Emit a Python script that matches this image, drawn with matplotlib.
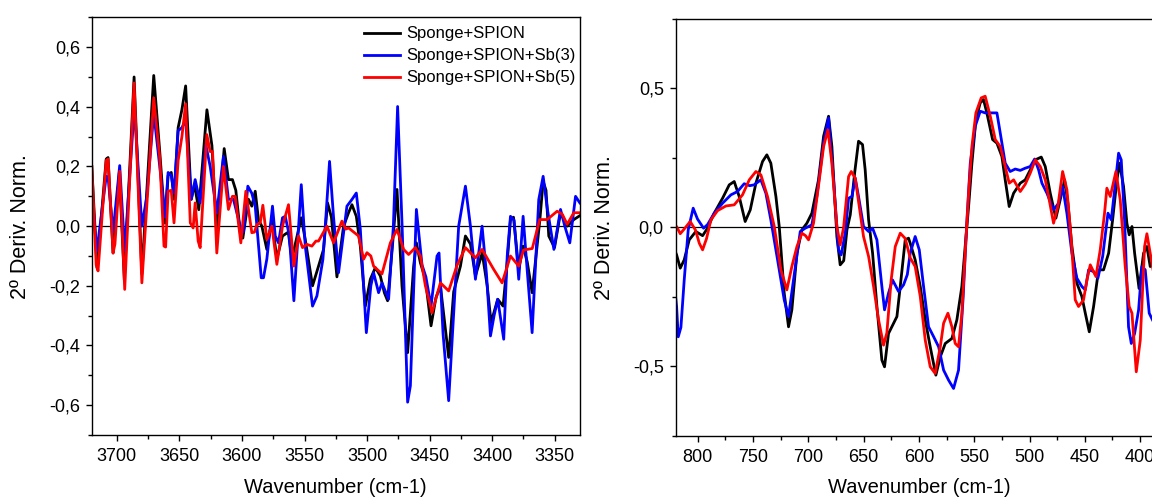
import numpy as np
import matplotlib
matplotlib.use("Agg")
import matplotlib.pyplot as plt
from matplotlib.ticker import MultipleLocator, FuncFormatter

plt.rcParams['font.family'] = ['Liberation Sans', 'DejaVu Sans']

labels = ["Sponge+SPION", "Sponge+SPION+Sb(3)", "Sponge+SPION+Sb(5)"]
colors = ["#000000", "#0000ff", "#ff0000"]

# OH stretching region (3720-3330 cm-1)
oh_wn_k = [3720, 3715.8, 3708.5, 3707, 3703, 3698, 3694, 3686.2, 3680, 3670.5, 3665.7, 3661.5, 3659, 3656.5,
           3654.3, 3651, 3648, 3645, 3640.5, 3638, 3634.5, 3628, 3624, 3620, 3614.2, 3610.8, 3607.6, 3604.9,
           3601.4, 3599.3, 3594.8, 3592.1, 3589.4, 3586.8, 3584.1, 3580.1, 3576.1, 3572.1, 3567.6, 3563,
           3560.1, 3552.6, 3549.4, 3543.6, 3538.8, 3534.8, 3531.6, 3528.5, 3524.1, 3518.8, 3514.8, 3512.1,
           3508.6, 3505.4, 3501.4, 3497.4, 3493.4, 3489.4, 3486.2, 3483.6, 3480, 3476.1, 3472.1, 3467.6,
           3462.8, 3460.6, 3457.4, 3453.4, 3448.9, 3445, 3441.4, 3434.8, 3430.8, 3425.4, 3421.4, 3417.4,
           3413.4, 3408, 3404, 3400.9, 3395.6, 3391.3, 3388, 3385.4, 3383, 3378.8, 3375.3, 3372, 3368.1,
           3361.9, 3359.3, 3357, 3354.8, 3350.2, 3345.4, 3340, 3334.8, 3330]
oh_k = [0.20, -0.14, 0.225, 0.23, -0.09, 0.18, -0.18, 0.50, -0.16, 0.505, 0.25, 0.01, 0.17, 0.18,
        0.09, 0.33, 0.39, 0.47, 0.09, 0.14, 0.055, 0.39, 0.27, -0.03, 0.26, 0.156, 0.156, 0.12,
        -0.02, -0.04, 0.09, 0.067, 0.117, 0.022, 0.0, -0.078, 0.022, -0.11, -0.033, -0.02,
        -0.11, 0.028, -0.045, -0.2, -0.134, -0.078, 0.078, 0.03, -0.17, 0.0, 0.045, 0.072,
        0.033, -0.067, -0.268, -0.178, -0.139, -0.167, -0.223, -0.25, -0.08, 0.123, -0.2, -0.424,
        -0.134, -0.056, -0.123, -0.178, -0.334, -0.24, -0.2, -0.44, -0.22, -0.134, -0.033, -0.06,
        -0.167, -0.09, -0.2, -0.323, -0.245, -0.268, -0.12, 0.022, 0.03, -0.145, -0.067, -0.12, -0.223,
        0.022, 0.15, 0.12, -0.033, -0.072, 0.045, 0.0, 0.022, 0.035]

oh_wn_b = [3720, 3716, 3708.5, 3707, 3703, 3697.7, 3693.7, 3686, 3680, 3676, 3670.5, 3665.7, 3661.5, 3659,
           3656.5, 3654.3, 3651, 3648, 3645, 3640.5, 3637.4, 3633.4, 3628.9, 3625.4, 3620.1, 3614.8, 3610.8,
           3606.8, 3601.4, 3598.8, 3595.3, 3592.1, 3589.4, 3584.6, 3582.8, 3580.1, 3575.6, 3573.4, 3570.8,
           3567.6, 3565.4, 3562.2, 3558.5, 3552.6, 3549.4, 3543.6, 3540.1, 3535.3, 3533.4, 3530, 3526.8,
           3522.8, 3516.1, 3512, 3508.6, 3505.4, 3500.6, 3497, 3494.8, 3490.8, 3488.1, 3482.8, 3479,
           3475.6, 3472, 3467.6, 3465.4, 3460.6, 3456.1, 3453, 3448.9, 3444.1, 3442.5, 3439.3, 3434.8,
           3426.8, 3421.4, 3417.4, 3413.4, 3408.1, 3404.6, 3401.4, 3398.5, 3395.6, 3390.8, 3388, 3385.4,
           3382.5, 3378.8, 3375.3, 3372, 3368.1, 3362.8, 3359.3, 3356, 3350.7, 3345.4, 3342, 3338,
           3333.4, 3330]
oh_b = [0.12, -0.085, 0.167, 0.165, -0.02, 0.203, -0.084, 0.40, 0.0, 0.1, 0.38, 0.2, 0.03, 0.18,
        0.17, 0.11, 0.32, 0.33, 0.355, 0.09, 0.156, 0.078, 0.273, 0.2, 0.045, 0.234, 0.09,
        0.09, 0.0, -0.02, 0.134, 0.11, 0.067, -0.173, -0.173, -0.11, 0.067, -0.033, -0.056,
        0.028, 0.033, -0.03, -0.25, 0.139, -0.067, -0.268, -0.234, -0.111, 0.0, 0.217, 0.03,
        -0.156, 0.067, 0.09, 0.111, -0.01, -0.357, -0.2, -0.156, -0.223, -0.19, -0.245, 0.0,
        0.401, 0.0, -0.59, -0.535, 0.056, -0.13, -0.17, -0.268, -0.1, -0.09, -0.36, -0.585,
        0.0, 0.134, 0.0, -0.178, 0.0, -0.16, -0.368, -0.3, -0.245, -0.379, -0.1, 0.033,
        0.02, -0.178, 0.033, -0.15, -0.357, 0.089, 0.167, 0.06, -0.078, 0.056, 0.0, -0.056,
        0.1, 0.078]

oh_wn_r = [3720, 3716.5, 3715, 3708.5, 3707, 3703, 3701.5, 3697.7, 3693.7, 3686.2, 3680, 3670.5, 3665.7,
           3662.3, 3661, 3659, 3656.5, 3654.3, 3651, 3648, 3645, 3641.3, 3639, 3637.4, 3635, 3633.4,
           3628.1, 3625.4, 3623.5, 3620.1, 3614.8, 3610.8, 3607.6, 3605.4, 3600.9, 3596.9, 3592.1, 3590,
           3588.1, 3585.4, 3583.3, 3580.1, 3576.1, 3572.1, 3567.6, 3562.8, 3558.5, 3554.8, 3551.6, 3548.1,
           3544.1, 3540.9, 3538.8, 3532.1, 3526.8, 3520.1, 3517, 3514.8, 3506.8, 3502.8, 3500.1, 3497,
           3494.8, 3488.1, 3481.4, 3476.1, 3470.8, 3466.8, 3461.4, 3457.4, 3453.4, 3448.1, 3441.4, 3434.8,
           3428, 3421.4, 3413.4, 3408.1, 3398.8, 3392.1, 3385.4, 3378.8, 3375, 3368, 3362, 3356.1, 3348.1,
           3344, 3340.1, 3334.8, 3330]
oh_r = [0.20, -0.13, -0.15, 0.22, 0.225, -0.09, -0.06, 0.184, -0.212, 0.48, -0.19, 0.43, 0.23,
        -0.067, -0.07, 0.117, 0.12, 0.011, 0.22, 0.30, 0.41, 0.011, -0.006, 0.078, -0.05, -0.072,
        0.307, 0.25, 0.25, -0.09, 0.2, 0.056, 0.1, 0.1, -0.056, 0.117, -0.022, -0.02,
        0.005, 0.011, 0.07, -0.045, 0.0, -0.128, 0.0, 0.072, -0.134, -0.033, -0.072, -0.061,
        -0.067, -0.05, -0.05, 0.0, -0.056, 0.017, -0.01, -0.006, -0.033, -0.111, -0.089, -0.1,
        -0.134, -0.16, -0.056, -0.011, -0.078, -0.095, -0.072, -0.1, -0.2, -0.29, -0.19, -0.217,
        -0.13, -0.072, -0.106, -0.078, -0.145, -0.19, -0.1, -0.134, -0.08, -0.075, 0.022, 0.022, 0.05,
        0.04, 0.006, 0.045, 0.045]

# fingerprint region (820-390 cm-1)
fp_wn_k = [820, 819.1, 815.8, 812.2, 807.7, 801.7, 795.6, 791.1, 785.1, 777.5, 771.5, 767, 762.5, 757.1,
           752.5, 747.4, 741.4, 737.5, 733.9, 729.3, 726.3, 721.8, 717.9, 714.9, 710.3, 705.8, 701.3,
           696.8, 690.8, 686.2, 681.7, 678.7, 674.2, 671.2, 668, 665.1, 662.1, 658, 654.6, 651, 648.6,
           645.5, 641.9, 638, 633.5, 631.1, 627.5, 623.5, 619.9, 616.9, 612.4, 609.4, 607.9, 603.4,
           598.8, 594.3, 589.8, 584.7, 580.7, 576.2, 570.2, 565.7, 561.2, 558.2, 555.1, 552.1, 548.5,
           544.6, 541.6, 538.6, 533.4, 529.5, 525, 522, 518.4, 514.4, 508.4, 503.9, 494.8, 489.4,
           485.8, 481.3, 476.2, 472.3, 468.3, 465.3, 461.7, 457.2, 452.7, 449.6, 446, 442.1, 437.6,
           433.1, 428.5, 424.9, 421, 418.6, 415, 412, 409.9, 407.4, 405, 401, 396.9, 393.9, 390.9, 388]
fp_k = [-0.09, -0.099, -0.147, -0.117, -0.045, -0.015, -0.03, -0.003, 0.051, 0.105, 0.153, 0.165, 0.111, 0.021,
        0.063, 0.159, 0.237, 0.261, 0.231, 0.111, 0.003, -0.237, -0.358, -0.297, -0.093, -0.009, 0.015,
        0.051, 0.171, 0.328, 0.40, 0.291, -0.033, -0.135, -0.12, -0.009, 0.045, 0.2, 0.31, 0.298, 0.207,
        0.027, -0.093, -0.285, -0.478, -0.502, -0.382, -0.35, -0.321, -0.213, -0.045, -0.039, -0.057, -0.117,
        -0.213, -0.333, -0.43, -0.532, -0.466, -0.418, -0.40, -0.333, -0.213, -0.069, 0.075, 0.231, 0.388,
        0.448, 0.46, 0.412, 0.316, 0.303, 0.255, 0.171, 0.075, 0.123, 0.159, 0.171, 0.243, 0.253,
        0.219, 0.123, 0.033, 0.099, 0.171, 0.087, -0.069, -0.201, -0.249, -0.309, -0.376, -0.285, -0.153,
        -0.153, -0.093, 0.027, 0.171, 0.231, 0.147, 0.015, -0.027, 0.003, -0.093, -0.22, -0.093, -0.069, -0.141, -0.12]

fp_wn_b = [820, 819.1, 817.6, 815.2, 812.2, 808.6, 804.1, 800.2, 794.7, 791.1, 785.1, 777.5, 770, 764, 758,
           753, 749, 742.9, 738.4, 733.9, 727.8, 721.8, 717.9, 713.4, 707.3, 702.8, 696.8, 692.3, 686.2,
           681.7, 677.2, 672.7, 670.3, 666.6, 663.6, 660.6, 657.6, 654.6, 650.1, 645.5, 641.9, 638, 633.5,
           631.1, 627.5, 623.9, 618.4, 613.9, 610.5, 607.9, 603.4, 599.7, 595.8, 591.3, 586.8, 582.2, 577.7,
           573.2, 568.7, 564.2, 560, 556.6, 553.6, 549.1, 544.6, 540.1, 534, 529.5, 526.5, 522, 517.5,
           512.9, 508.4, 503.9, 499.4, 495.4, 491.8, 488.8, 484.3, 478.3, 473.7, 470.1, 466.2, 461.7, 457.2,
           452.7, 449.6, 446.6, 442.1, 438.2, 433.9, 429.1, 426.1, 423.1, 419.5, 417.1, 414.1, 410.5, 408,
           405, 401.4, 398.4, 395.4, 391.8, 388]
fp_b = [-0.25, -0.285, -0.394, -0.36, -0.189, -0.009, 0.069, 0.03, -0.003, 0.01, 0.051, 0.087, 0.117, 0.129, 0.157,
        0.15, 0.153, 0.171, 0.123, 0.027, -0.117, -0.261, -0.321, -0.189, -0.015, -0.003, 0.009, 0.111, 0.304,
        0.394, 0.171, -0.081, -0.099, -0.02, 0.105, 0.111, 0.177, 0.111, 0.003, -0.015, -0.003, -0.045, -0.213,
        -0.297, -0.237, -0.189, -0.231, -0.207, -0.17, -0.093, -0.033, -0.081, -0.213, -0.358, -0.393, -0.43, -0.514,
        -0.55, -0.58, -0.514, -0.25, 0.027, 0.231, 0.364, 0.418, 0.412, 0.412, 0.412, 0.34, 0.231, 0.201,
        0.21, 0.205, 0.213, 0.219, 0.246, 0.207, 0.159, 0.123, 0.063, 0.087, 0.147, 0.05, -0.093, -0.183,
        -0.213, -0.225, -0.153, -0.159, -0.183, -0.105, 0.051, 0.027, 0.135, 0.267, 0.243, 0.027, -0.358, -0.418,
        -0.382, -0.297, -0.141, -0.153, -0.309, -0.34]

fp_wn_r = [820, 819.1, 815.8, 812, 806.8, 802, 798.6, 795.6, 792, 788.1, 782.1, 774.5, 767, 759.5, 753.4,
           747.4, 742.9, 736.9, 730.8, 724.8, 719.4, 714.9, 710.3, 705.8, 702.5, 699.8, 695.3, 690.8, 686.2,
           682.3, 678.7, 674.2, 671.2, 668.1, 663.6, 661.2, 657.6, 653.1, 650.1, 645.5, 641, 636.5, 632, 629,
           625.1, 621.4, 616.9, 612.4, 607.9, 603.4, 598.8, 594.3, 589.8, 585.3, 580.7, 577.7, 573.8, 570.2,
           567.2, 564.2, 561.2, 558.2, 555.1, 552.1, 548.5, 543.7, 540.1, 535.5, 531, 526.5, 522, 518.4,
           514.4, 508.4, 503.9, 499.4, 494.8, 490.3, 485.8, 482.2, 478.3, 474.4, 470.1, 466.2, 462.3, 458.7,
           455.7, 451.2, 448.1, 445.1, 440, 436.1, 432.2, 430.1, 427, 421.9, 418, 413.5, 409.9, 407.4, 403.5,
           399.9, 396, 393.9, 390.9, 388]
fp_r = [0.0, 0.003, -0.023, -0.005, 0.021, -0.01, -0.057, -0.081, -0.04, 0.027, 0.06, 0.077, 0.081, 0.117, 0.171,
        0.201, 0.189, 0.111, 0.003, -0.153, -0.225, -0.141, -0.069, -0.021, -0.03, -0.045, 0.015, 0.15, 0.291,
        0.351, 0.231, 0.003, -0.063, 0.0, 0.183, 0.201, 0.177, 0.051, -0.033, -0.105, -0.213, -0.333, -0.424, -0.38,
        -0.189, -0.069, -0.021, -0.04, -0.11, -0.141, -0.249, -0.406, -0.502, -0.526, -0.43, -0.345, -0.309, -0.358,
        -0.418, -0.43, -0.309, -0.093, 0.123, 0.291, 0.412, 0.466, 0.472, 0.40, 0.316, 0.291, 0.219, 0.159,
        0.171, 0.129, 0.155, 0.195, 0.243, 0.219, 0.171, 0.099, 0.015, 0.075, 0.201, 0.135, -0.045, -0.261,
        -0.285, -0.261, -0.189, -0.135, -0.177, -0.081, 0.051, 0.141, 0.111, 0.201, 0.099, -0.141, -0.285, -0.309, -0.52,
        -0.406, -0.069, -0.023, -0.093, -0.16]


def comma_fmt(v, pos):
    s = f"{v:.1f}"
    if s == "-0.0":
        s = "0.0"
    return s.replace(".", ",")


def style_axes(ax):
    for sp in ax.spines.values():
        sp.set_linewidth(1.0)
    ax.tick_params(which="both", direction="out", top=False, right=False, labelsize=13)
    ax.tick_params(which="major", length=4.5, width=1.0, pad=4)
    ax.tick_params(which="minor", length=2.7, width=1.0)
    ax.tick_params(axis="x", which="major", pad=5)
    ax.yaxis.set_major_formatter(FuncFormatter(comma_fmt))
    ax.axhline(0, color="black", lw=0.9, zorder=1)
    ax.set_xlabel("Wavenumber (cm-1)", fontsize=14.5)
    ax.set_ylabel("2º Deriv. Norm.", fontsize=15.5)


fig = plt.figure(figsize=(11.52, 4.99), dpi=100)

ax1 = fig.add_axes([91.8 / 1152, 64 / 499, 488 / 1152, 417.7 / 499])
for wn, val, c, lab in [(oh_wn_k, oh_k, colors[0], labels[0]),
                        (oh_wn_b, oh_b, colors[1], labels[1]),
                        (oh_wn_r, oh_r, colors[2], labels[2])]:
    ax1.plot(wn, val, color=c, lw=2, label=lab, zorder=2)
ax1.set_xlim(3720, 3330)
ax1.set_ylim(-0.7, 0.7)
ax1.xaxis.set_major_locator(MultipleLocator(50))
ax1.xaxis.set_minor_locator(MultipleLocator(25))
ax1.yaxis.set_major_locator(MultipleLocator(0.2))
ax1.yaxis.set_minor_locator(MultipleLocator(0.1))
style_axes(ax1)
ax1.legend(loc="upper left", bbox_to_anchor=(0.547, 0.99), frameon=False, fontsize=12,
           handlelength=2.2, handletextpad=0.35, labelspacing=0.42, borderpad=0.3, borderaxespad=0)

ax2 = fig.add_axes([675.6 / 1152, 63.3 / 499, 488 / 1152, 416.7 / 499])
for wn, val, c in [(fp_wn_k, fp_k, colors[0]), (fp_wn_b, fp_b, colors[1]), (fp_wn_r, fp_r, colors[2])]:
    ax2.plot(wn, val, color=c, lw=2, zorder=2)
ax2.set_xlim(820, 378.8)
ax2.set_ylim(-0.75, 0.75)
ax2.xaxis.set_major_locator(MultipleLocator(50))
ax2.xaxis.set_minor_locator(MultipleLocator(25))
ax2.yaxis.set_major_locator(MultipleLocator(0.5))
ax2.yaxis.set_minor_locator(MultipleLocator(0.25))
style_axes(ax2)

for ax in (ax1, ax2):
    ax.xaxis.set_label_coords(0.5, -0.102)
    ax.yaxis.set_label_coords(-0.125, 0.5)

fig.savefig("out.png", dpi=100)
